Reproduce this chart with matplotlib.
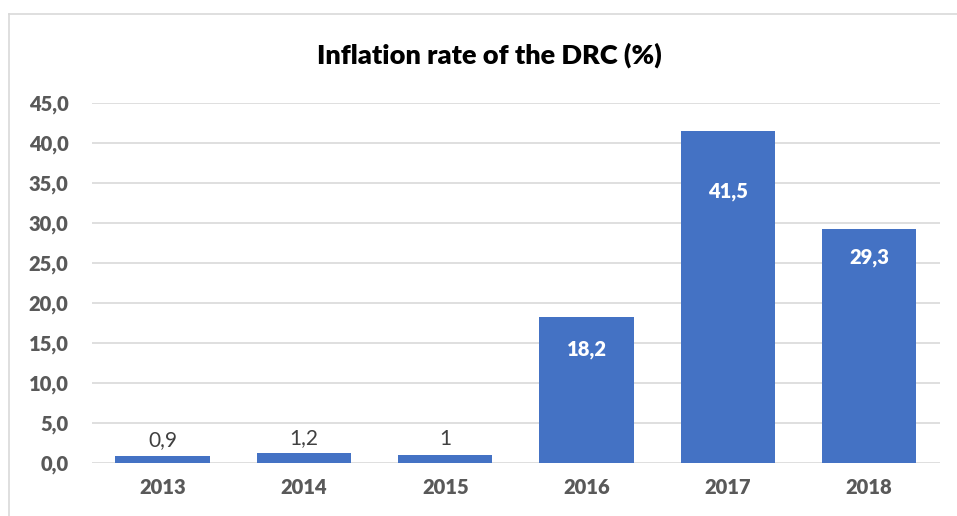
import matplotlib.pyplot as plt
from matplotlib.lines import Line2D

plt.rcParams['font.family'] = ['Lato', 'DejaVu Sans']

years = ['2013', '2014', '2015', '2016', '2017', '2018']
inflation = [0.9, 1.2, 1.0, 18.2, 41.5, 29.3]
labels = ['0,9', '1,2', '1', '18,2', '41,5', '29,3']
inside = [False, False, False, True, True, True]
# label drop below bar top (in data units) for the inside labels
drop = [0, 0, 0, 4.0, 7.6, 3.6]

blue = '#4472C4'
grey = '#595959'

fig = plt.figure(figsize=(9.57, 5.16), dpi=100)
ax = fig.add_axes([0.0961, 0.1027, 0.886, 0.6977])

x = range(len(years))
ax.bar(x, inflation, width=0.667, color=blue, zorder=3)

for i, v in enumerate(inflation):
    if inside[i]:
        ax.text(i, v - drop[i], labels[i], ha='center', va='center',
                color='white', fontsize=14.5, fontweight='heavy', zorder=4)
    else:
        ax.text(i, v + 0.7, labels[i], ha='center', va='bottom',
                color='#404040', fontsize=15, zorder=4)

ax.set_xlim(-0.5, len(years) - 0.5)
ax.set_ylim(0, 45)
ax.set_yticks([0, 5, 10, 15, 20, 25, 30, 35, 40, 45])
ax.set_yticklabels([f'{t:.1f}'.replace('.', ',') for t in ax.get_yticks()],
                   fontweight='heavy')
ax.set_xticks(list(x))
ax.set_xticklabels(years, fontweight='heavy')
ax.tick_params(axis='both', length=0, labelsize=14.5, labelcolor=grey)
ax.tick_params(axis='x', pad=11)
ax.tick_params(axis='y', pad=17)

ax.grid(axis='y', color='#d9d9d9', linewidth=1.2, zorder=0)
for s in ax.spines.values():
    s.set_visible(False)

fig.text(0.511, 0.893, 'Inflation rate of the DRC (%)', ha='center', va='center',
         fontsize=19.5, fontweight='heavy', color='black')

# outer chart border (top and left edges visible in the crop)
fig.add_artist(Line2D([9/957, 1], [1 - 14/516, 1 - 14/516], color='#d9d9d9', linewidth=1.2))
fig.add_artist(Line2D([9/957, 9/957], [0, 1 - 14/516], color='#d9d9d9', linewidth=1.2))

fig.savefig('out.png', dpi=100)
